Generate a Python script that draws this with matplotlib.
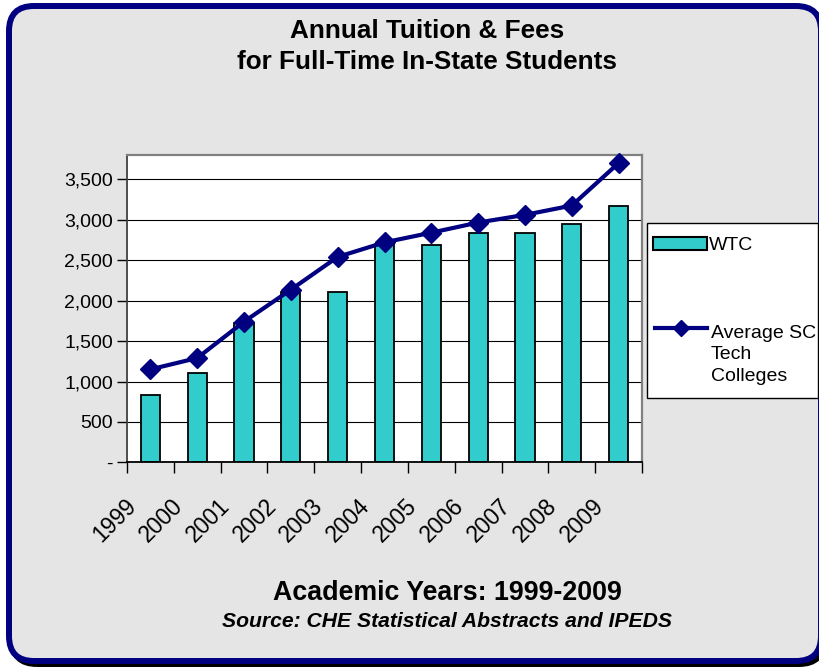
import matplotlib
matplotlib.use('Agg')
import matplotlib.pyplot as plt
from matplotlib.patches import FancyBboxPatch, Rectangle
from matplotlib.lines import Line2D
from matplotlib.transforms import ScaledTranslation
import numpy as np

# ---- data ----
years = ['1999', '2000', '2001', '2002', '2003', '2004', '2005', '2006', '2007', '2008', '2009']
wtc = [835, 1100, 1720, 2110, 2110, 2700, 2690, 2835, 2835, 2945, 3165]
avg_sc = [1150, 1290, 1740, 2135, 2540, 2720, 2840, 2965, 3060, 3175, 3700]
series_names = ['WTC', 'Average SC\nTech\nColleges']
y_ticks = [0, 500, 1000, 1500, 2000, 2500, 3000, 3500]
y_labels = ['-' if v == 0 else f'{v:,}' for v in y_ticks]
title_lines = ['Annual Tuition & Fees', 'for Full-Time In-State Students']
x_title = 'Academic Years: 1999-2009'
source = 'Source: CHE Statistical Abstracts and IPEDS'

TEAL = '#33CCCC'
NAVY = '#000080'
BG = '#E5E5E5'
FONT = 'Liberation Sans'
plt.rcParams['font.family'] = [FONT, 'DejaVu Sans']

W, H = 819, 667
fig = plt.figure(figsize=(W / 100, H / 100), dpi=100)
fig.patch.set_facecolor('white')


def fx(x):
    return x / W


def fy(y):
    return 1 - y / H


# ---- frame with shadow ----
inch = fig.dpi_scale_trans
x0, x1, y0, y1 = 9, 821, 6, 661
shadow = FancyBboxPatch(((x0 + 3) / 100, (H - y1 - 3) / 100), (x1 - x0) / 100, (y1 - y0) / 100,
                        boxstyle='round,pad=0,rounding_size=0.25', transform=inch,
                        fc='none', ec='black', lw=4.3, zorder=-2)
fig.patches.append(shadow)
frame = FancyBboxPatch((x0 / 100, (H - y1) / 100), (x1 - x0) / 100, (y1 - y0) / 100,
                       boxstyle='round,pad=0,rounding_size=0.25', transform=inch,
                       fc=BG, ec=NAVY, lw=4.3, zorder=-1)
fig.patches.append(frame)

# ---- axes ----
L, R, T, B = 127, 642, 155, 462.4
ax = fig.add_axes([fx(L), fy(B), fx(R) - fx(L), (B - T) / H])
ax.set_zorder(1)
ax.set_facecolor('white')
x = np.arange(len(years))
ax.bar(x, wtc, width=0.41, color=TEAL, edgecolor='black', linewidth=1.3, zorder=2)
ax.plot(x, avg_sc, color=NAVY, lw=3, marker='D', ms=10, zorder=3, clip_on=False)

ax.set_xlim(-0.5, len(years) - 0.5)
ax.set_ylim(0, 3800)
ax.set_axisbelow(True)
ax.yaxis.grid(True, color='black', lw=0.8)

for s in ['top', 'right']:
    ax.spines[s].set_color('#808080')
    ax.spines[s].set_linewidth(1.6)
ax.spines['left'].set_color('#404040')
ax.spines['left'].set_linewidth(1.3)
ax.spines['bottom'].set_color('black')
ax.spines['bottom'].set_linewidth(1.3)

ax.set_yticks(y_ticks, y_labels)
ax.tick_params(axis='y', length=7, width=1, color='black', pad=3, labelsize=14)
ax.set_xticks(x, years)
ax.set_xticks(np.arange(-0.5, len(years), 1), minor=True)
ax.tick_params(axis='x', which='major', length=0, pad=23, labelsize=16.5, labelrotation=45)
ax.tick_params(axis='x', which='minor', length=8, width=1, color='black')
shift = ScaledTranslation(-10 / 100, 0, fig.dpi_scale_trans)
for lab in ax.get_xticklabels():
    lab.set_ha('right')
    lab.set_transform(lab.get_transform() + shift)

# ---- legend (drawn as in the source) ----
fig.patches.append(Rectangle((fx(647), fy(398)), fx(818) - fx(647), (398 - 223) / H,
                             transform=fig.transFigure, fc='white', ec='black', lw=1, zorder=2))
fig.patches.append(Rectangle((fx(653), fy(250)), fx(707) - fx(653), 13 / H,
                             transform=fig.transFigure, fc=TEAL, ec='black', lw=1.5, zorder=3))
fig.text(fx(709), fy(245), series_names[0], fontsize=14, va='center', ha='left', zorder=4)
fig.lines.append(Line2D([fx(655), fx(707)], [fy(328), fy(328)], transform=fig.transFigure,
                        color=NAVY, lw=3, zorder=3))
fig.lines.append(Line2D([fx(681)], [fy(328)], transform=fig.transFigure, color=NAVY,
                        marker='D', ms=8, zorder=3))
fig.text(fx(711), fy(325), series_names[1], fontsize=14, va='top', ha='left',
         linespacing=1.33, zorder=4)

# ---- titles ----
fig.text(fx(427), fy(38), title_lines[0], fontsize=18.8, weight='bold', ha='center', va='baseline')
fig.text(fx(427), fy(69), title_lines[1], fontsize=18.8, weight='bold', ha='center', va='baseline')
fig.text(fx(447), fy(600), x_title, fontsize=19.3, weight='bold', ha='center', va='baseline')
fig.text(fx(447), fy(627), source, fontsize=15.2, weight='bold', style='italic', ha='center',
         va='baseline')

fig.savefig('out.png', dpi=100, facecolor='white')
